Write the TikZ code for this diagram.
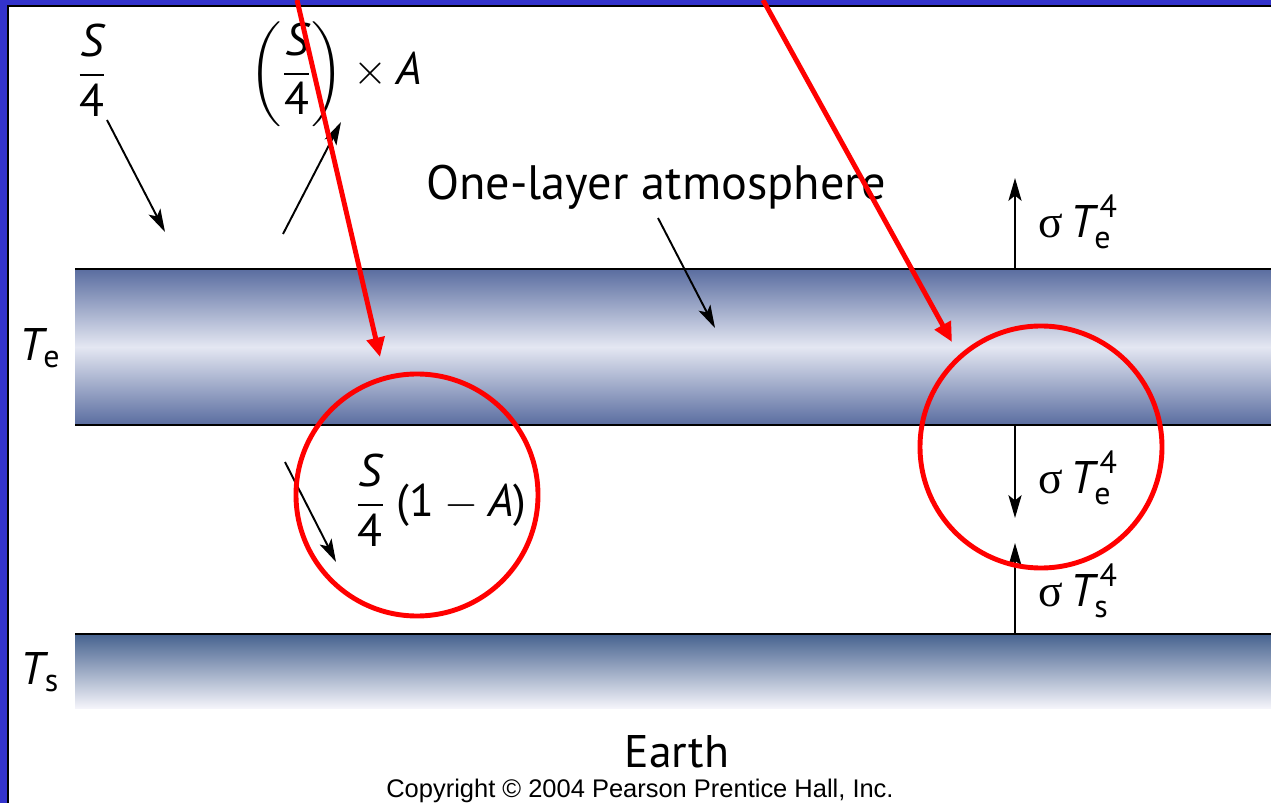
\documentclass[tikz,border=0pt]{standalone}
\usepackage{amsmath}
\usepackage{fontspec}
\setmainfont{PT Sans}
\newfontfamily\copyfont{Liberation Sans}
\newfontfamily\sigmafont{Liberation Serif}
\usetikzlibrary{arrows.meta}

\definecolor{slideblue}{HTML}{3333CC}
\definecolor{bandedge}{HTML}{5A6DA0}
\definecolor{bandmid}{HTML}{E4E7F2}
\definecolor{ground}{HTML}{46628F}
\definecolor{groundlow}{HTML}{F4F4FA}
\definecolor{markred}{HTML}{FF0000}

\newcommand{\quarterS}{\dfrac{\textit{S}}{\text{4}}}
\newcommand{\flux}[1]{{\sigmafont σ}\,$\textit{T}^{\kern3pt\text{4}}_{\text{#1}}$}

\begin{document}
\begin{tikzpicture}[x=0.02cm, y=-0.02cm,
  flow/.style={line width=1.1pt, -{Stealth[length=13pt, width=7.5pt, inset=3pt]}},
  edge/.style={line width=1.4pt},
  callout/.style={markred, line width=2.8pt, -{Triangle[length=11pt, width=10pt]}},
  ring/.style={markred, line width=2.8pt},
  lbl/.style={inner sep=0pt, font=\fontsize{26}{30}\selectfont}]
  \useasboundingbox (0,0) rectangle (1271,803);

  % Slide frame
  \fill[slideblue] (0,0) rectangle (1271,5);
  \fill[slideblue] (0,0) rectangle (7,803);
  \fill[black] (7,5) rectangle (1271,7);
  \fill[black] (7,5) rectangle (9,803);

  % Atmosphere and ground
  \shade[top color=bandedge, bottom color=bandedge, middle color=bandmid] (75,269) rectangle (1271,425);
  \draw[edge] (75,269) -- (1271,269);
  \draw[edge] (75,425) -- (1271,425);
  \shade[top color=ground, bottom color=groundlow] (75,634) rectangle (1271,708);
  \draw[edge] (75,634) -- (1271,634);

  % Labels
  \node[lbl] (sin) at (92,70) {$\quarterS$};
  \node[lbl] (refl) at (336,74) {$\left(\quarterS\right)\times\textit{A}$};
  \node[lbl, font=\fontsize{27.5}{30}\selectfont] (atmlabel) at (656,187) {One-layer atmosphere};
  \node[lbl] (te) at (40,348) {$\textit{T}_{\text{e}}$};
  \node[lbl] (ts) at (40,672) {$\textit{T}_{\text{s}}$};
  \node[lbl] (trans) at (441,500) {$\quarterS\;\text{(1} - \textit{A}\text{)}$};
  \node[lbl] (outlw) at (1078,222) {\flux{e}};
  \node[lbl] (backlw) at (1078,478) {\flux{e}};
  \node[lbl] (surflw) at (1078,591) {\flux{s}};
  \node[lbl] (earth) at (677,752) {Earth};
  \node[inner sep=0pt, font=\copyfont\fontsize{14.5}{18}\selectfont] (copy) at (640,791) {Copyright © 2004 Pearson Prentice Hall, Inc.};

  % Arrow ends
  \coordinate (sin0) at (107,120);
  \coordinate (sin1) at (165,232);
  \coordinate (refl0) at (283,234);
  \coordinate (refl1) at (341,122);
  \coordinate (atm0) at (658,218);
  \coordinate (atm1) at (715,328);
  \coordinate (trans0) at (285,462);
  \coordinate (trans1) at (336,562);
  \coordinate (top0) at (1015,269);
  \coordinate (top1) at (1015,178);
  \coordinate (mid0) at (1015,425);
  \coordinate (mid1) at (1015,518);
  \coordinate (bot0) at (1015,634);
  \coordinate (bot1) at (1015,543);

  \draw[flow] (sin0) -- (sin1);
  \draw[flow] (refl0) -- (refl1);
  \draw[flow] (atm0) -- (atm1);
  \draw[flow] (trans0) -- (trans1);
  \draw[flow] (top0) -- (top1);
  \draw[flow] (mid0) -- (mid1);
  \draw[flow] (bot0) -- (bot1);

  % Red marks
  \coordinate (red0) at (297,0);
  \coordinate (red1) at (380,357);
  \coordinate (red2) at (763,0);
  \coordinate (red3) at (952,342);
  \draw[callout] (red0) -- (red1);
  \draw[callout] (red2) -- (red3);
  \draw[ring] (417,495) circle (121);
  \draw[ring] (1041,447) circle (121);
\end{tikzpicture}
\end{document}
